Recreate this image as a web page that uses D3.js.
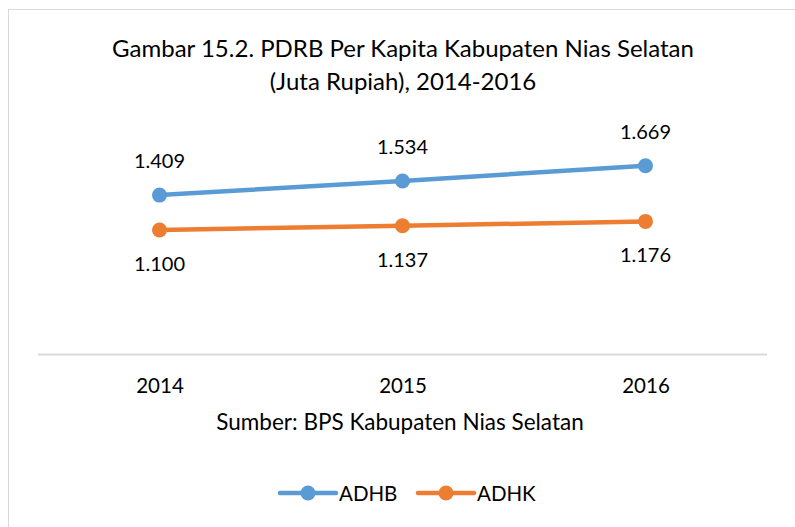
<!DOCTYPE html>
<html>
<head>
<meta charset="utf-8">
<script src="https://cdn.jsdelivr.net/npm/d3@7"></script>
<style>
  body { margin: 0; background: #fff; }
  text { font-family: Lato, "Open Sans", sans-serif; fill: #000; }
</style>
</head>
<body>
<div id="chart"></div>
<script>
// data
var years = ["2014", "2015", "2016"];
var adhb = [1.409, 1.534, 1.669];
var adhk = [1.100, 1.137, 1.176];
var seriesNames = ["ADHB", "ADHK"];
var colors = ["#5B9BD5", "#ED7D31"];

var fmt = d3.format(".3f");
function label(v) { return fmt(v); }

var W = 795, H = 527;
var svg = d3.select("#chart").append("svg")
  .attr("width", W).attr("height", H);

// chart border
svg.append("rect")
  .attr("x", 8.5).attr("y", 9.5)
  .attr("width", 800).attr("height", 530)
  .attr("fill", "none").attr("stroke", "#D9D9D9").attr("stroke-width", 1);

// title
var title = svg.append("text").attr("text-anchor", "middle").style("font-size", "24px");
title.append("tspan").attr("x", 403).attr("y", 57).text("Gambar 15.2. PDRB Per Kapita Kabupaten Nias Selatan");
title.append("tspan").attr("x", 403).attr("y", 90).text("(Juta Rupiah), 2014-2016");

var x = d3.scalePoint().domain(years).range([38, 767]).padding(0.5);
var y = d3.scaleLinear().domain([0, 2]).range([354.3, 128.3]);

// category axis
var xAxis = svg.append("g").attr("transform", "translate(0,354.5)")
  .call(d3.axisBottom(x).tickSize(0).tickPadding(22));
xAxis.select(".domain").attr("stroke", "#D9D9D9").attr("stroke-width", 2)
  .attr("d", "M38,0H767");
xAxis.selectAll("text").style("font-size", "20.5px").attr("font-family", null)
  .attr("dy", null).attr("y", 38.5);

svg.append("text").attr("x", 400).attr("y", 430).attr("text-anchor", "middle")
  .style("font-size", "22.5px").text("Sumber: BPS Kabupaten Nias Selatan");

var series = [adhb, adhk];
var line = d3.line().x(function(d, i) { return x(years[i]); }).y(function(d) { return y(d); });

series.forEach(function(vals, s) {
  svg.append("path").datum(vals)
    .attr("d", line).attr("fill", "none")
    .attr("stroke", colors[s]).attr("stroke-width", 4.5).attr("stroke-linecap", "round");
  svg.selectAll(".pt" + s).data(vals).enter().append("circle")
    .attr("cx", function(d, i) { return x(years[i]); })
    .attr("cy", function(d) { return y(d); })
    .attr("r", 7.5).attr("fill", colors[s]);
  svg.selectAll(".lb" + s).data(vals).enter().append("text")
    .attr("x", function(d, i) { return x(years[i]); })
    .attr("y", function(d) { return s == 0 ? y(d) - 27 : y(d) + 41; })
    .attr("text-anchor", "middle").style("font-size", "20px")
    .text(label);
});

// legend
var lx = [280, 418];
seriesNames.forEach(function(n, s) {
  var g = svg.append("g").attr("transform", "translate(" + lx[s] + ",493)");
  g.append("line").attr("x1", 0).attr("x2", 56).attr("y1", 0).attr("y2", 0)
    .attr("stroke", colors[s]).attr("stroke-width", 4.5).attr("stroke-linecap", "round");
  g.append("circle").attr("cx", 28).attr("cy", 0).attr("r", 7.5).attr("fill", colors[s]);
  g.append("text").attr("x", 59).attr("y", 7.5).style("font-size", "20.5px").text(n);
});
</script>
</body>
</html>
